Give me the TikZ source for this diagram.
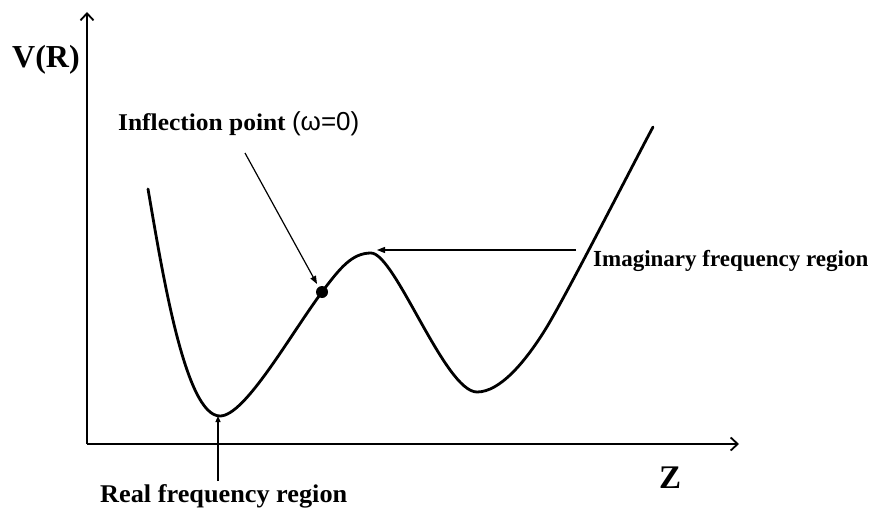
\documentclass[tikz,border=0pt]{standalone}
\usepackage{fontspec}
\setmainfont{Liberation Serif}
\newfontfamily\symfont{Liberation Sans}
\usetikzlibrary{arrows.meta}
\begin{document}
\begin{tikzpicture}[x=1pt,y=-1pt,
  axis/.style={line width=2.2pt,-{Straight Barb[length=7pt,width=13pt,line width=1.8pt]}},
  curve/.style={line width=2.8pt,line join=round,line cap=round},
  pointer/.style={line width=1.2pt,-{Triangle[length=8pt,width=6pt]}},
  lbl/.style={anchor=base west,inner sep=0pt,font=\bfseries}]
\useasboundingbox[fill=white] (0,0) rectangle (888,508);
% axes
\coordinate (origin) at (87,444);
\coordinate (ytop) at (87,12);
\coordinate (xend) at (739,444);
\draw[axis] (origin) -- (ytop);
\draw[axis] (origin) -- (xend);
% potential curve
\draw[curve] (148,189) .. controls (162,270) and (185,416) .. (220,416)
  .. controls (245,416) and (290,335) .. (322,292)
  .. controls (340,268) and (352,253) .. (371,253)
  .. controls (395,253) and (445,392) .. (477,392)
  .. controls (500,392) and (525,362) .. (545,330)
  .. controls (565,298) and (630,170) .. (653,127);
% inflection dot
\node[circle,fill=black,inner sep=0pt,minimum size=12pt] (dot) at (322,292) {};
% labels
\node[lbl,font=\bfseries\fontsize{32}{32}\selectfont] (vr) at (12,68) {V(R)};
\node[lbl,font=\bfseries\fontsize{33}{33}\selectfont] (z) at (659,488) {Z};
\node[lbl] (infl) at (118,130) {\scalebox{1.06}[1]{\fontsize{24}{24}\selectfont\bfseries Inflection point }{\symfont\mdseries\fontsize{26}{26}\selectfont (ω=0)}};
\node[lbl] (imag) at (593,266) {\fontsize{23}{24}\selectfont\bfseries Imaginary frequency region};
\node[lbl] (real) at (100,502) {\scalebox{1.03}[1]{\fontsize{25.5}{26}\selectfont\bfseries Real frequency region}};
% pointers
\coordinate (inflstart) at (245,153);
\coordinate (infltip) at (317,284);
\coordinate (imagstart) at (576,250);
\coordinate (imagtip) at (377,250);
\coordinate (realstart) at (218,481);
\coordinate (realtip) at (218,416);
\draw[pointer] (inflstart) -- (infltip);
\draw[pointer] (imagstart) -- (imagtip);
\draw[pointer,-{Triangle[length=6pt,width=5pt]}] (realstart) -- (realtip);
\end{tikzpicture}
\end{document}
